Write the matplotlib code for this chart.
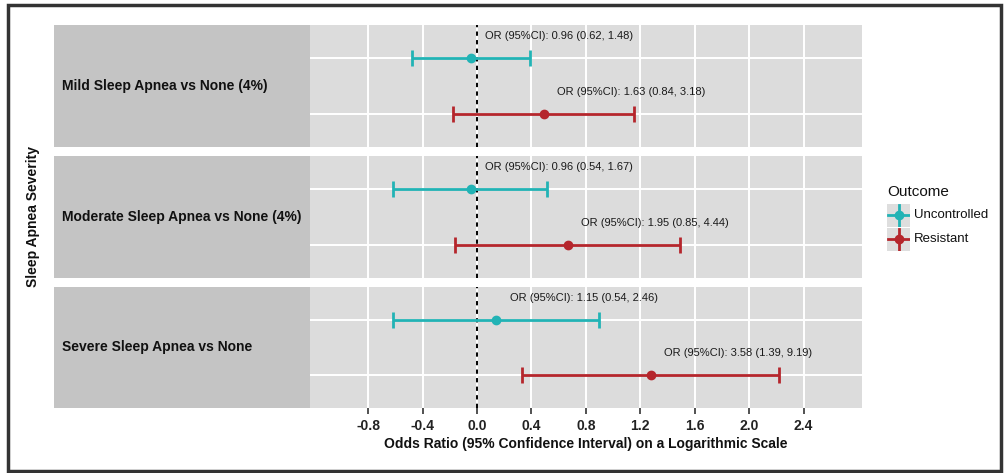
import numpy as np
import matplotlib
matplotlib.use("Agg")
import matplotlib.pyplot as plt
from matplotlib.patches import Rectangle
from matplotlib.lines import Line2D

plt.rcParams['font.family'] = ['Liberation Sans', 'DejaVu Sans']
plt.rcParams['axes.unicode_minus'] = False

# ---- data ----
comparisons = ["Mild Sleep Apnea vs None (4%)",
               "Moderate Sleep Apnea vs None (4%)",
               "Severe Sleep Apnea vs None"]
outcomes = ["Uncontrolled", "Resistant"]
outcome_colors = ["#22B3B5", "#B5262C"]
# odds ratios and 95% CI, per comparison: [Uncontrolled, Resistant]
or_est = [[0.96, 1.63], [0.96, 1.95], [1.15, 3.58]]
or_low = [[0.62, 0.84], [0.54, 0.85], [0.54, 1.39]]
or_high = [[1.48, 3.18], [1.67, 4.44], [2.46, 9.19]]
xticks = [-0.8, -0.4, 0.0, 0.4, 0.8, 1.2, 1.6, 2.0, 2.4]
xlabel = "Odds Ratio (95% Confidence Interval) on a Logarithmic Scale"
ylabel = "Sleep Apnea Severity"
legend_title = "Outcome"

W, H = 1005, 473
fig = plt.figure(figsize=(W / 100, H / 100), dpi=100)

def fx(px):
    return px / W

def fy(py):
    return 1 - py / H

# outer border
fig.patches.append(Rectangle((fx(8), fy(471)), fx(1001) - fx(8), fy(5) - fy(471),
                             transform=fig.transFigure, fill=False,
                             edgecolor="#333333", linewidth=2.5, zorder=10))

panel_rows = [(25, 147), (156, 278), (287, 408)]
strip_left, panel_left, panel_right = 54, 310, 862
levels = [2, 1]  # Uncontrolled on top

for i, (top, bot) in enumerate(panel_rows):
    # strip
    sax = fig.add_axes([fx(strip_left), fy(bot), fx(panel_left) - fx(strip_left), fy(top) - fy(bot)])
    sax.set_facecolor("#C4C4C4")
    sax.set_xticks([]); sax.set_yticks([])
    for s in sax.spines.values():
        s.set_visible(False)
    sax.text(8 / (panel_left - strip_left), 0.5, comparisons[i], transform=sax.transAxes,
             ha="left", va="center", fontsize=10, fontweight="bold", color="#111111")

    ax = fig.add_axes([fx(panel_left), fy(bot), fx(panel_right) - fx(panel_left), fy(top) - fy(bot)])
    ax.set_facecolor("#DCDCDC")
    ax.set_xlim(-1.228, 2.83)
    ax.set_ylim(0.4, 2.6)
    ax.set_xticks(xticks)
    ax.set_yticks(levels)
    ax.grid(True, color="white", linewidth=1.4)
    ax.set_axisbelow(True)
    for s in ax.spines.values():
        s.set_visible(False)
    ax.tick_params(axis="y", length=0, labelleft=False)
    if i < 2:
        ax.tick_params(axis="x", length=0, labelbottom=False)
    else:
        ax.tick_params(axis="x", length=4, width=1.2, color="#333333",
                       labelsize=10, labelcolor="#222222", pad=4)
        ax.set_xticklabels([f"{t:.1f}" for t in xticks], fontweight="bold")
        ax.set_xlabel(xlabel, fontsize=10, fontweight="bold", labelpad=3, color="#111111")

    ax.axvline(0, color="black", linestyle=(0, (2.2, 2.2)), linewidth=1.4, zorder=2)

    for j in range(2):
        est = np.log(or_est[i][j])
        lo = np.log(or_low[i][j])
        hi = np.log(or_high[i][j])
        ax.errorbar([est], [levels[j]], xerr=[[est - lo], [hi - est]], fmt="o",
                    color=outcome_colors[j], ms=6, elinewidth=2, capsize=5.5,
                    capthick=2, zorder=3)
        ax.text(est + 0.1, levels[j] + 0.4,
                f"OR (95%CI): {or_est[i][j]:.2f} ({or_low[i][j]:.2f}, {or_high[i][j]:.2f})",
                ha="left", va="center", fontsize=8, color="#1a1a1a")

# y label
fig.text(fx(33), fy(216), ylabel, rotation=90, ha="center", va="center",
         fontsize=10, fontweight="bold", color="#111111")

# legend (manual, ggplot style)
fig.text(fx(887), fy(192), legend_title, ha="left", va="center", fontsize=11, color="#111111")
key_tops = [204, 228]
for j in range(2):
    kt = key_tops[j]
    kax = fig.add_axes([fx(887), fy(kt + 23), fx(23), fy(0) - fy(23)])
    kax.set_facecolor("#DEDEDE")
    kax.set_xlim(0, 1); kax.set_ylim(0, 1)
    kax.set_xticks([]); kax.set_yticks([])
    for s in kax.spines.values():
        s.set_visible(False)
    kax.plot([0.05, 0.95], [0.5, 0.5], color=outcome_colors[j], lw=2)
    kax.plot([0.5, 0.5], [0.05, 0.95], color=outcome_colors[j], lw=2)
    kax.plot([0.5], [0.5], "o", color=outcome_colors[j], ms=6)
    fig.text(fx(914), fy(kt + 11.5), outcomes[j], ha="left", va="center",
             fontsize=9.5, color="#111111")

fig.savefig("out.png", dpi=100)
